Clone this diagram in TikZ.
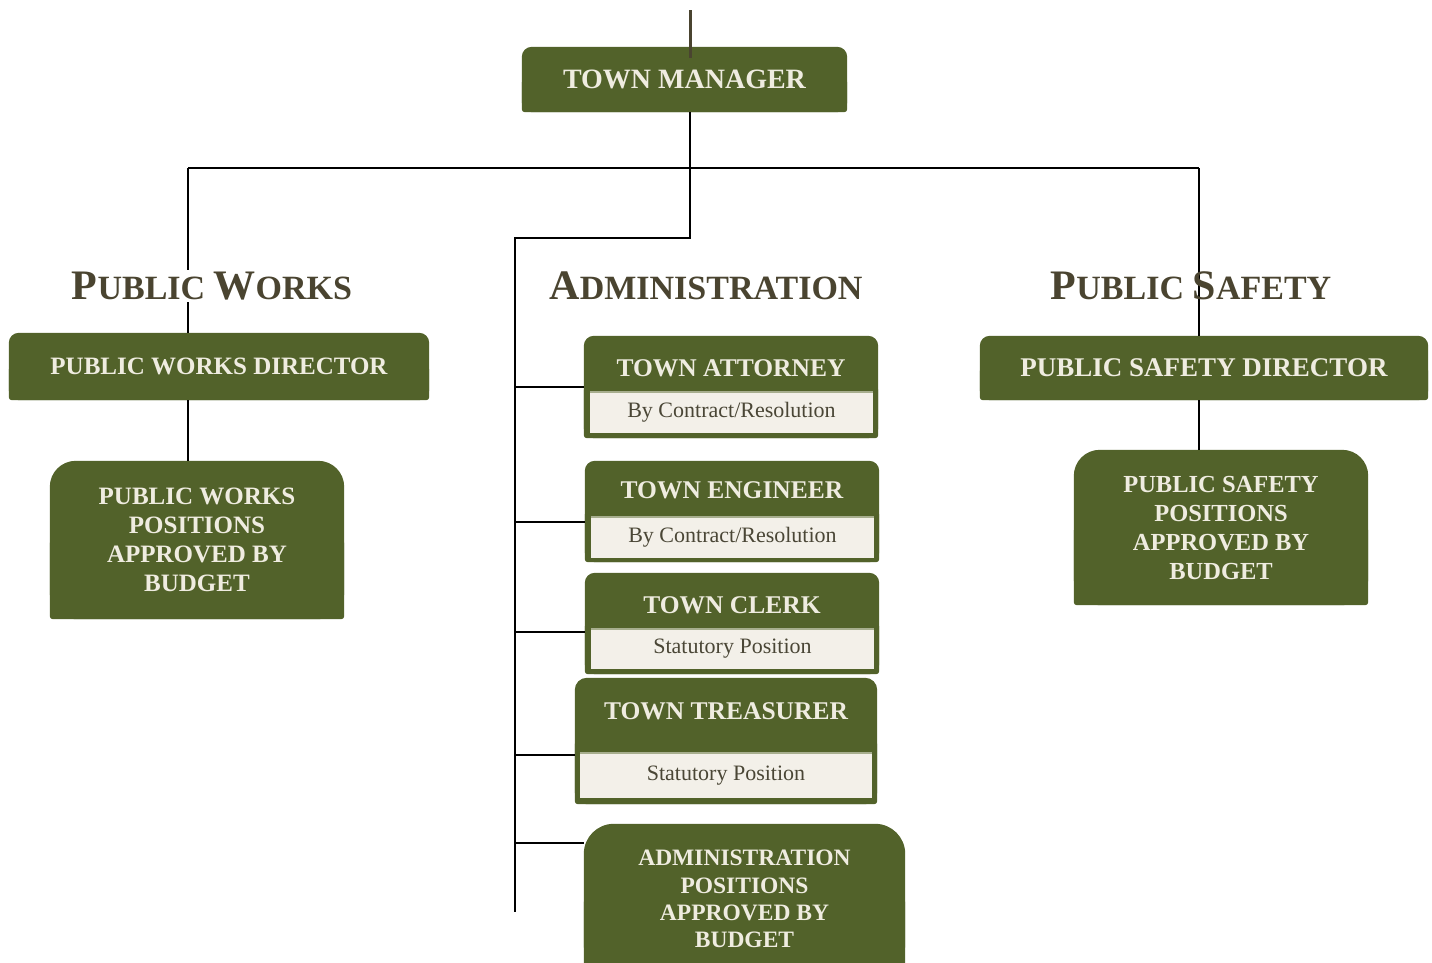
\documentclass[tikz,border=0pt]{standalone}
\usepackage{fontspec}
\setmainfont{Liberation Serif}
\usetikzlibrary{positioning,backgrounds}

\definecolor{boxgreen}{HTML}{52622A}
\definecolor{creamtext}{HTML}{EFECE0}
\definecolor{notefill}{HTML}{F3F0E9}
\definecolor{notetext}{HTML}{4A4636}
\definecolor{headbrown}{HTML}{4A4430}
\definecolor{rim}{HTML}{A7AE8E}

% small caps by hand: large first letter, smaller rest
\newcommand\sccap[2]{{\fontsize{42}{42}\selectfont #1}{\fontsize{34}{34}\selectfont #2}}

% green tab: rounded top, nearly square bottom
\newcommand\tabfill[2]{%
  \fill[boxgreen, rounded corners=#2] (#1.south west) rectangle (#1.north east);
  \fill[boxgreen, rounded corners=3pt] (#1.south west) rectangle (#1.east);}

\tikzset{
  role/.style={text=creamtext, font=\bfseries\fontsize{25.5}{29}\selectfont, align=center, inner sep=0pt},
  tab/.style 2 args={minimum width=#1, minimum height=#2, inner sep=0pt},
  subnote/.style={fill=notefill, text=notetext, font=\fontsize{22}{24}\selectfont, inner sep=0pt},
  heading/.style={text=headbrown, font=\bfseries\fontsize{34}{34}\selectfont, inner sep=0pt},
  link/.style={black, line width=2pt},
}

\begin{document}
\begin{tikzpicture}[x=1pt, y=-1pt]
  \clip (0,0) rectangle (1432,962);

  \coordinate (top) at (690,10);
  \coordinate (topend) at (690,58);
  \coordinate (hub) at (690,168);
  \coordinate (adm) at (690,238);
  \coordinate (pwtop) at (188,168);
  \coordinate (pstop) at (1199,168);
  \coordinate (spine) at (515,238);
  \coordinate (spineend) at (515,912);

  \node[role, tab={325}{65}, font=\bfseries\fontsize{28}{30}\selectfont] (manager) at (684.5,79.5) {TOWN MANAGER};

  % public works
  \node[role, tab={420}{67}, font=\bfseries\fontsize{25}{29}\selectfont] (pwdir) at (219,366.5) {PUBLIC WORKS DIRECTOR};
  \node[role, tab={294}{158}, font=\bfseries\fontsize{25}{29}\selectfont] (pwpos) at (197,540) {PUBLIC WORKS\\POSITIONS\\APPROVED BY\\BUDGET};

  % public safety
  \node[role, tab={448}{64}, font=\bfseries\fontsize{27}{29}\selectfont] (psdir) at (1204,368) {PUBLIC SAFETY DIRECTOR};
  \node[role, tab={294}{155}, font=\bfseries\fontsize{24.5}{29}\selectfont] (pspos) at (1221,527.5) {PUBLIC SAFETY\\POSITIONS\\APPROVED BY\\BUDGET};

  % administration
  \node[tab={294}{102}] (attorney) at (731,387) {};
  \node[role] (attorney-name) at (731,368) {TOWN ATTORNEY};
  \node[subnote, minimum width=283, minimum height=41] (attorney-note) at (731.5,412.5) {By Contract/Resolution};

  \node[tab={294}{101}] (engineer) at (732,511.5) {};
  \node[role] (engineer-name) at (732,490) {TOWN ENGINEER};
  \node[subnote, minimum width=283, minimum height=41] (engineer-note) at (732.5,537.5) {By Contract/Resolution};

  \node[tab={294}{101}] (clerk) at (732,623.5) {};
  \node[role] (clerk-name) at (732,605) {TOWN CLERK};
  \node[subnote, minimum width=283, minimum height=40] (clerk-note) at (732.5,649) {Statutory Position};

  \node[tab={302}{126}] (treasurer) at (726,741) {};
  \node[role] (treasurer-name) at (726,711) {TOWN TREASURER};
  \node[subnote, minimum width=292, minimum height=45] (treasurer-note) at (726,775.5) {Statutory Position};

  \node[role, tab={321}{150}, font=\bfseries\fontsize{23.5}{27.3}\selectfont] (adminpos) at (744.5,899) {ADMINISTRATION\\POSITIONS\\APPROVED BY\\BUDGET};

  \foreach \o in {attorney, engineer, clerk, treasurer}
    \draw[rim, line width=2.5pt] (\o-note.north west) -- (\o-note.north east);

  % connectors
  \draw[headbrown, line width=3pt] (top) -- (topend);
  \draw[link] (manager.south -| hub) -- (adm) -- (spine) -- (spineend);
  \draw[link] (pwtop) -- (pstop);
  \draw[link] (pwtop) -- (pwtop |- pwdir.north);
  \draw[link] (pwtop |- pwdir.south) -- (pwtop |- pwpos.north);
  \draw[link] (pstop) -- (pstop |- psdir.north);
  \draw[link] (pstop |- psdir.south) -- (pstop |- pspos.north);
  \foreach \o/\y in {attorney/387, engineer/522, clerk/632, treasurer/755, adminpos/843}
    \draw[link] (spine |- 0,\y) -- (\o.west |- 0,\y);

  % section headings
  \node[heading, fill=white, inner ysep=2pt] (pwhead) at (212,286) {\sccap{P}{UBLIC} \sccap{W}{ORKS}};
  \node[heading] (adminhead) at (706,286) {\sccap{A}{DMINISTRATION}};
  \node[heading] (pshead) at (1191,286) {\sccap{P}{UBLIC} \sccap{S}{AFETY}};

  \begin{scope}[on background layer]
    \tabfill{manager}{10pt}
    \tabfill{pwdir}{10pt}
    \tabfill{psdir}{10pt}
    \tabfill{attorney}{10pt}
    \tabfill{engineer}{10pt}
    \tabfill{clerk}{10pt}
    \tabfill{treasurer}{12pt}
    \tabfill{pwpos}{26pt}
    \tabfill{pspos}{26pt}
    \tabfill{adminpos}{30pt}
  \end{scope}
\end{tikzpicture}
\end{document}
